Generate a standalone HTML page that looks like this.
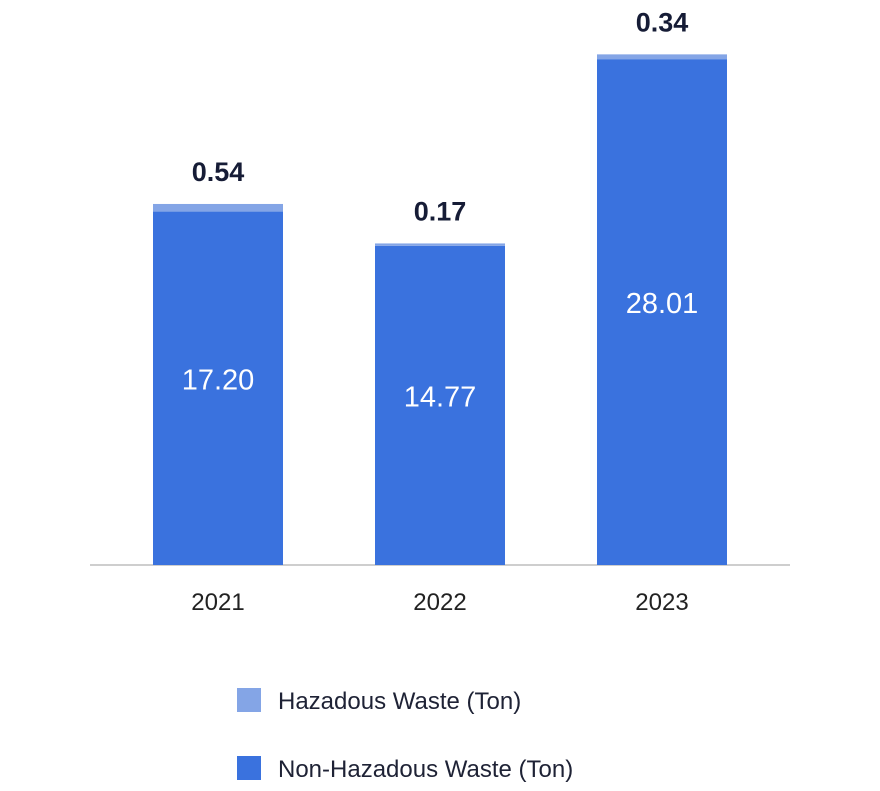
<!DOCTYPE html>
<html><head><meta charset="utf-8"><style>
html,body{margin:0;padding:0;background:#fff;}
body{width:880px;height:786px;overflow:hidden;font-family:"Liberation Sans",sans-serif;}
</style></head><body>
<svg id="chart" width="880" height="786" xmlns="http://www.w3.org/2000/svg">
<line x1="90" y1="565" x2="790" y2="565" stroke="#bdbdbd" stroke-width="1.5"/>
<g>
<rect x="237" y="688" width="24" height="24" fill="#84a5e6"/>
<text x="278" y="709" font-size="24" fill="#1e2235">Hazadous Waste (Ton)</text>
<rect x="237" y="756" width="24" height="24" fill="#3a72de"/>
<text x="278" y="777" font-size="24" fill="#1e2235">Non-Hazadous Waste (Ton)</text>
</g>
</svg>
<script>
const categories = ["2021", "2022", "2023"];
const nonHazardous = [17.20, 14.77, 28.01];
const hazardous = [0.54, 0.17, 0.34];
const nonHazLabels = ["17.20", "14.77", "28.01"];
const hazLabels = ["0.54", "0.17", "0.34"];

const svg = document.getElementById('chart');
const NS = 'http://www.w3.org/2000/svg';
const baseY = 565;
// value axis: domain [-7.87, ...], 14.1 px per unit
function y(v){ return baseY - (110.9 + 14.1 * v); }
function x(i){ return 153 + i * 222; }
const bw = 130;
function mk(tag, attrs){ const e = document.createElementNS(NS, tag); for (const k in attrs) e.setAttribute(k, attrs[k]); svg.appendChild(e); return e; }

categories.forEach((c, i) => {
  const nTop = y(nonHazardous[i]);
  const hTop = y(nonHazardous[i] + hazardous[i]);
  const r1 = mk('rect', {x: x(i), y: nTop, width: bw, height: baseY - nTop, fill: '#3a72de'});
  
  
  const r2 = mk('rect', {x: x(i), y: hTop, width: bw, height: nTop - hTop, fill: '#84a5e6'});
  
  
  const t1 = mk('text', {x: x(i) + bw/2, y: (nTop + baseY)/2 + 1, 'text-anchor': 'middle', 'font-size': 29, fill: '#ffffff'});
  t1.textContent = nonHazLabels[i];
  
  
  const t2 = mk('text', {x: x(i) + bw/2, y: hTop - 23, 'text-anchor': 'middle', 'font-size': 27, 'font-weight': 'bold', fill: '#161c36'});
  t2.textContent = hazLabels[i];
  
  
  const t3 = mk('text', {x: x(i) + bw/2, y: 610, 'text-anchor': 'middle', 'font-size': 24, fill: '#222222'});
  t3.textContent = c;
  
  
});
</script>
</body></html>
